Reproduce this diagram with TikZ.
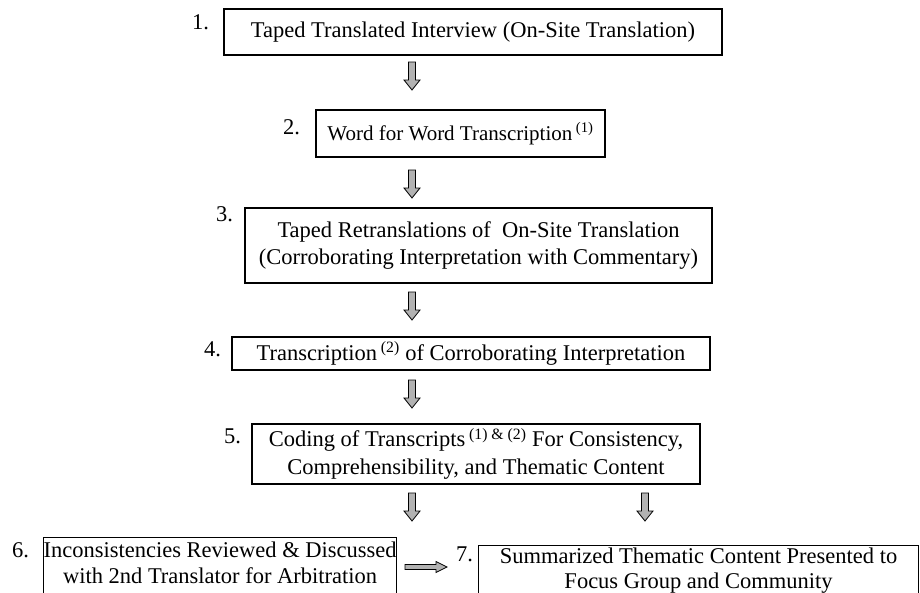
\documentclass[tikz,border=0pt]{standalone}
\usepackage{fontspec}
\setmainfont{Liberation Serif}
\tikzset{
  txt/.style={font=\fontsize{22.5}{28}\selectfont, inner sep=0pt},
  stepbox/.style={txt, draw, line width=1.1pt, align=center},
  num/.style={txt, anchor=north west},
  pics/blockdown/.style={code={
    \draw[fill=gray!60, line width=0.8pt, line join=miter]
      (-3.5,-14) -- (3.5,-14) -- (3.5,4) -- (8,4) -- (0,14) -- (-8,4) -- (-3.5,4) -- cycle;}},
  pics/blockright/.style={code={
    \draw[fill=gray!60, line width=0.8pt, line join=miter]
      (-21,-2.5) -- (10,-2.5) -- (10,-5.5) -- (21,0) -- (10,5.5) -- (10,2.5) -- (-21,2.5) -- cycle;}}
}
\begin{document}
\begin{tikzpicture}[x=1pt,y=-1pt]
\useasboundingbox (0,0) rectangle (920,592);
% boxes
\node[stepbox, minimum width=498pt, minimum height=46pt, line width=1.4pt] (b1) at (473,32)
  {Taped Translated Interview (On-Site Translation)};
\node[stepbox, minimum width=289pt, minimum height=47pt, font=\fontsize{21}{26}\selectfont] (b2) at (460.5,133.5)
  {Word for Word Transcription\,\textsuperscript{(1)}};
\node[stepbox, minimum width=467pt, minimum height=75pt] (b3) at (478.5,245.5)
  {Taped Retranslations of\ \ On-Site Translation\\(Corroborating Interpretation with Commentary)};
\node[stepbox, minimum width=478pt, minimum height=33pt] (b4) at (471,353.5)
  {Transcription\,\textsuperscript{(2)} of Corroborating Interpretation};
\node[stepbox, minimum width=448pt, minimum height=60pt] (b5) at (476,454)
  {Coding of Transcripts\,\textsuperscript{(1) \& (2)} For Consistency,\\Comprehensibility, and Thematic Content};
\node[stepbox, minimum width=352pt, anchor=north west, inner ysep=4pt,
  font=\fontsize{22.5}{26}\selectfont] (b6) at (43,537)
  {Inconsistencies Reviewed \& Discussed\\with 2nd Translator for Arbitration\rule[-8pt]{0pt}{1pt}};
\node[stepbox, minimum width=440pt, anchor=north west, inner ysep=2pt,
  font=\fontsize{22.5}{25}\selectfont] (b7) at (478,545)
  {Summarized Thematic Content Presented to\\Focus Group and Community\rule[-8pt]{0pt}{1pt}};
% numbers
\node[num] (n1) at (192,14) {1.};
\node[num] (n2) at (283,119) {2.};
\node[num] (n3) at (216,206) {3.};
\node[num] (n4) at (204,341) {4.};
\node[num] (n5) at (224,429) {5.};
\node[num] (n6) at (12,542) {6.};
\node[num] (n7) at (456,547) {7.};
% block arrows
\pic (a1) at (412,76) {blockdown};
\pic (a2) at (412,184) {blockdown};
\pic (a3) at (412,306) {blockdown};
\pic (a4) at (412,394) {blockdown};
\pic (a5) at (412,507) {blockdown};
\pic (a6) at (645,507) {blockdown};
\pic (a7) at (426,567) {blockright};
\end{tikzpicture}
\end{document}
